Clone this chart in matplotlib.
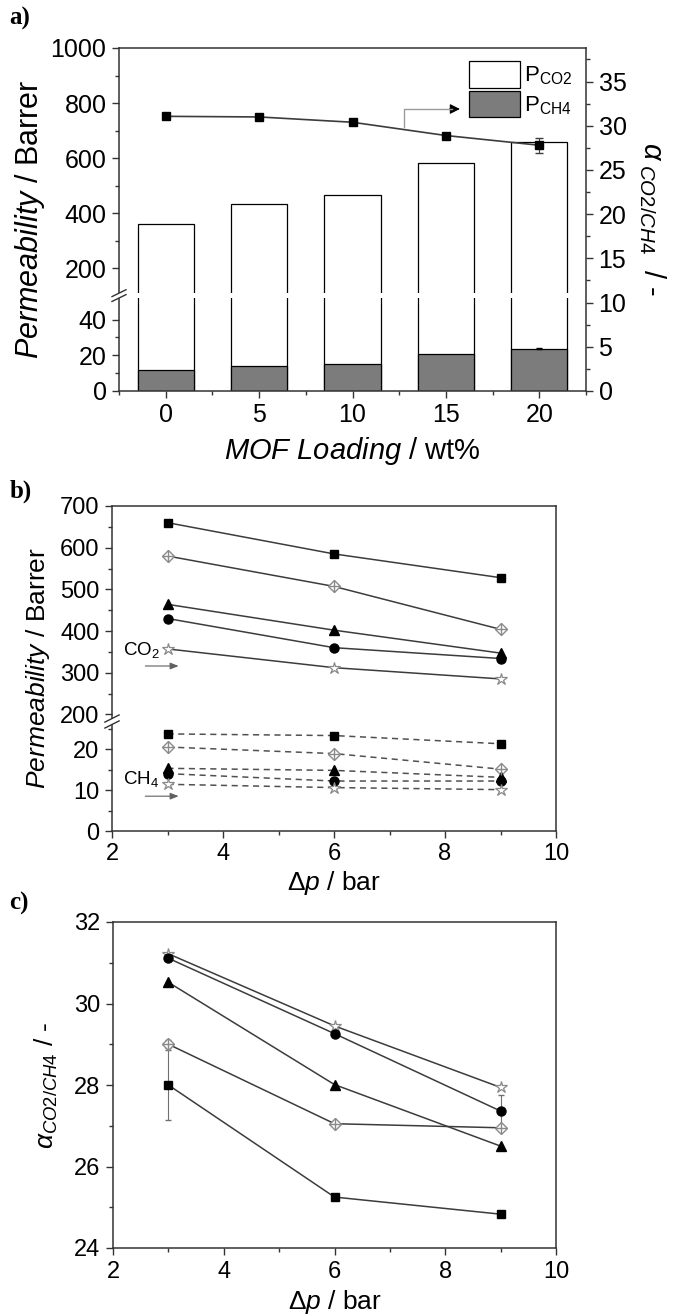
import numpy as np
import matplotlib
matplotlib.use("Agg")
import matplotlib.pyplot as plt
from matplotlib.ticker import FixedLocator, MultipleLocator, FixedFormatter
from matplotlib.patches import Rectangle

plt.rcParams['font.family'] = ['Liberation Sans', 'DejaVu Sans']
plt.rcParams['mathtext.fontset'] = 'custom'
plt.rcParams['mathtext.rm'] = 'Liberation Sans'
plt.rcParams['mathtext.it'] = 'Liberation Sans:italic'
plt.rcParams['mathtext.bf'] = 'Liberation Sans:bold'

# ---------------- data ----------------
# panel a
loading = [0, 5, 10, 15, 20]
p_co2 = [361, 434, 465, 584, 660]
p_ch4 = [11.6, 14.0, 15.3, 20.5, 23.7]
p_ch4_err = [0.0, 0.0, 0.0, 0.0, 0.4]
alpha_a = [31.07, 31.0, 30.4, 28.9, 27.8]
alpha_a_err = [0.0, 0.0, 0.0, 0.0, 0.85]

# panel b / c  (series: 20, 15, 10, 5, 0 wt%)
pressure = [3, 6, 9]
co2_sq = [660, 585, 528]
co2_dia = [580, 507, 404]
co2_tri = [464, 402, 347]
co2_cir = [430, 360, 334]
co2_star = [357, 312, 285]
ch4_sq = [23.7, 23.3, 21.3]
ch4_dia = [20.5, 18.9, 15.1]
ch4_tri = [15.3, 14.8, 13.1]
ch4_cir = [14.0, 12.2, 12.2]
ch4_star = [11.4, 10.6, 10.1]

sel_star = [31.22, 29.45, 27.94]
sel_cir = [31.11, 29.26, 27.36]
sel_tri = [30.52, 28.01, 26.50]
sel_dia = [29.00, 27.05, 26.95]
sel_sq = [28.00, 25.25, 24.83]
sel_sq_err = [0.87, 0.0, 0.0]
sel_cir_err = [0.0, 0.0, 0.40]
sel_dia_err = [0.10, 0.0, 0.0]

# tick labels
a_xticks = [0, 5, 10, 15, 20]
a_yticks = [0, 20, 40, 200, 400, 600, 800, 1000]
a_yminor = [10, 30, 300, 500, 700, 900]
a_rticks = [0, 5, 10, 15, 20, 25, 30, 35]
b_yticks = [0, 10, 20, 200, 300, 400, 500, 600, 700]
b_yminor = [5, 15, 25, 250, 350, 450, 550, 650]
bc_xticks = [2, 4, 6, 8, 10]
c_yticks = [24, 26, 28, 30, 32]

SPINE = '#333333'
LINE = '#3c3c3c'
GRAY = '#8a8a8a'
BARGRAY = '#7c7c7c'


def broken_scale(vs, ps):
    vs = np.asarray(vs, float)
    ps = np.asarray(ps, float)
    s0 = (ps[1] - ps[0]) / (vs[1] - vs[0])
    s1 = (ps[-1] - ps[-2]) / (vs[-1] - vs[-2])

    def mk(a, b, sa, sb):
        def f(v):
            v = np.asarray(v, float)
            out = np.interp(v, a, b)
            out = np.where(v < a[0], b[0] + (v - a[0]) * sa, out)
            out = np.where(v > a[-1], b[-1] + (v - a[-1]) * sb, out)
            return out
        return f
    return mk(vs, ps, s0, s1), mk(ps, vs, 1 / s0, 1 / s1)


def style_axes(ax):
    for s in ax.spines.values():
        s.set_color(SPINE)
        s.set_linewidth(1.1)
    ax.tick_params(which='both', direction='out', color=SPINE, width=1.0)
    ax.tick_params(which='major', length=5)
    ax.tick_params(which='minor', length=3)


def spine_break(ax, frac0, frac1, x0, x1, dx=0.015, dy=0.01):
    ax.add_patch(Rectangle((x0, frac0), x1 - x0, frac1 - frac0, transform=ax.transAxes,
                           facecolor='white', edgecolor='none', zorder=3, clip_on=False))
    for f in (frac0, frac1):
        ax.plot([-dx, dx], [f - dy, f + dy], transform=ax.transAxes, color=SPINE,
                lw=1.0, clip_on=False, zorder=4)


fig = plt.figure(figsize=(6.77, 13.16), dpi=100)

# ---------------- panel a ----------------
axa = fig.add_axes([119 / 677, 1 - 391 / 1316, 467 / 677, 343 / 1316])
fa, ia = broken_scale([0, 52, 110, 1000], [0, 92.8, 97.8, 342.6])
axa.set_yscale('function', functions=(fa, ia))
axa.bar(loading, p_co2, width=3, color='white', edgecolor='black', linewidth=0.9,
        zorder=1, label=r'P$_{\mathregular{CO2}}$')
axa.bar(loading, p_ch4, width=3, color=BARGRAY, edgecolor='black', linewidth=0.9,
        zorder=1.5, label=r'P$_{\mathregular{CH4}}$')
axa.errorbar([loading[-1]], [p_ch4[-1]], yerr=[p_ch4_err[-1]], fmt='none', ecolor='black',
             elinewidth=0.8, capsize=2, zorder=2)
axa.set_ylim(0, 1000)
axa.set_xlim(-2.5, 22.5)
axa.yaxis.set_major_locator(FixedLocator(a_yticks))
axa.yaxis.set_minor_locator(FixedLocator(a_yminor))
axa.yaxis.set_major_formatter(FixedFormatter([str(t) for t in a_yticks]))
axa.xaxis.set_major_locator(FixedLocator(a_xticks))
axa.xaxis.set_minor_locator(MultipleLocator(2.5))
style_axes(axa)
axa.tick_params(which='both', top=False, right=False, labelsize=18, pad=4)
axa.spines['right'].set_visible(False)
g0 = fa(52.5) / fa(1000)
g1 = fa(109) / fa(1000)
spine_break(axa, float(g0), float(g1), -0.012, 0.997)
leg = axa.legend(loc='upper right', bbox_to_anchor=(1.0, 1.0), frameon=False, fontsize=16,
                 handlelength=2.3, handleheight=1.45, handletextpad=0.2,
                 labelspacing=0.15, borderaxespad=0.2)

axr = axa.twinx()
axr.set_ylim(0, 38.8)
axr.errorbar(loading, alpha_a, yerr=alpha_a_err, color=LINE, lw=1.2, marker='s', ms=6,
             mfc='black', mec='black', ecolor=LINE, elinewidth=0.8, capsize=3, zorder=5)
axr.yaxis.set_major_locator(FixedLocator(a_rticks))
axr.yaxis.set_minor_locator(MultipleLocator(2.5))
style_axes(axr)
for s in ('left', 'top', 'bottom'):
    axr.spines[s].set_visible(False)
axr.tick_params(which='both', labelsize=18, pad=4)
# elbow arrow pointing to the right axis
elbow_x = [12.75, 12.75, 15.3]
elbow_y = [29.9, 31.9, 31.9]
axr.plot(elbow_x, elbow_y, color='#9a9a9a', lw=1.0, zorder=4)
axr.annotate('', xy=(15.75, 31.9), xytext=(15.2, 31.9),
             arrowprops=dict(arrowstyle='-|>,head_length=0.6,head_width=0.3',
                             color='black', lw=0.8, shrinkA=0, shrinkB=0))

axa.set_ylabel(r'$\mathit{Permeability}$ / Barrer', fontsize=22, ha='center', va='center')
axa.yaxis.set_label_coords((30 - 119) / 467, 0.5)
axa.set_xlabel(r'$\mathit{MOF\ Loading}$ / wt%', fontsize=21, ha='center', va='center')
axa.xaxis.set_label_coords(0.5, (391 - 451) / 343)
axr.set_ylabel(r'$\alpha_{\ \mathit{CO2/CH4}}$  / -', fontsize=21, rotation=270,
               ha='center', va='center')
axr.yaxis.set_label_coords((652 - 119) / 467, 0.5)

# ---------------- panel b ----------------
axb = fig.add_axes([112 / 677, 1 - 831 / 1316, 444 / 677, 325 / 1316])
fb, ib = broken_scale([0, 26, 190, 700], [0, 106.6, 112.6, 325.3])
axb.set_yscale('function', functions=(fb, ib))


def series(ax, y, kind, ls='-'):
    kw = dict(color=LINE, lw=1.1, ls=ls, zorder=2)
    if ls == '--':
        kw['dashes'] = (4, 3)
        kw['color'] = '#505050'
    if kind == 's':
        ax.plot(pressure, y, marker='s', ms=6, mfc='black', mec='black', **kw)
    elif kind == '^':
        ax.plot(pressure, y, marker='^', ms=7, mfc='black', mec='black', **kw)
    elif kind == 'o':
        ax.plot(pressure, y, marker='o', ms=6.5, mfc='black', mec='black', **kw)
    elif kind == 'D':
        ax.plot(pressure, y, marker='D', ms=6.5, mfc='white', mec=GRAY, mew=1.0, **kw)
        ax.plot(pressure, y, ls='none', marker='+', ms=8, mec=GRAY, mew=1.0, zorder=3)
    elif kind == '*':
        ax.plot(pressure, y, marker='*', ms=9, mfc='white', mec=GRAY, mew=0.9, **kw)


series(axb, co2_sq, 's')
series(axb, co2_dia, 'D')
series(axb, co2_tri, '^')
series(axb, co2_cir, 'o')
series(axb, co2_star, '*')
series(axb, ch4_sq, 's', '--')
series(axb, ch4_dia, 'D', '--')
series(axb, ch4_tri, '^', '--')
series(axb, ch4_cir, 'o', '--')
series(axb, ch4_star, '*', '--')
axb.set_ylim(0, 700)
axb.set_xlim(2, 10)
axb.yaxis.set_major_locator(FixedLocator(b_yticks))
axb.yaxis.set_minor_locator(FixedLocator(b_yminor))
axb.yaxis.set_major_formatter(FixedFormatter([str(t) for t in b_yticks]))
axb.xaxis.set_major_locator(FixedLocator(bc_xticks))
axb.xaxis.set_minor_locator(MultipleLocator(1))
style_axes(axb)
axb.tick_params(which='both', top=False, right=False, labelsize=17, pad=4)
h0 = fb(26.3) / fb(700)
h1 = fb(189) / fb(700)
spine_break(axb, float(h0), float(h1), -0.008, 0.008, dx=0.016, dy=0.011)

axb.text(2.2, 354, r'CO$_2$', fontsize=13.5, ha='left', va='center')
axb.annotate('', xy=(3.2, 316), xytext=(2.6, 316),
             arrowprops=dict(arrowstyle='-|>,head_length=0.5,head_width=0.2',
                             color='#606060', lw=0.8, shrinkA=0, shrinkB=0))
axb.text(2.2, 12.6, r'CH$_4$', fontsize=13.5, ha='left', va='center')
axb.annotate('', xy=(3.2, 8.5), xytext=(2.6, 8.5),
             arrowprops=dict(arrowstyle='-|>,head_length=0.5,head_width=0.2',
                             color='#606060', lw=0.8, shrinkA=0, shrinkB=0))
axb.set_ylabel(r'$\mathit{Permeability}$ / Barrer', fontsize=19, ha='center', va='center')
axb.yaxis.set_label_coords((38 - 112) / 444, 0.5)
axb.set_xlabel(r'$\mathit{\Delta p}$ / bar', fontsize=19, ha='center', va='center')
axb.xaxis.set_label_coords(0.5, (831 - 883) / 325)

# ---------------- panel c ----------------
axc = fig.add_axes([113 / 677, 1 - 1248 / 1316, 443 / 677, 326 / 1316])
series(axc, sel_star, '*')
axc.errorbar(pressure, sel_cir, yerr=sel_cir_err, fmt='none', ecolor='#707070',
             elinewidth=0.8, capsize=2.5, zorder=1)
series(axc, sel_cir, 'o')
series(axc, sel_tri, '^')
axc.errorbar(pressure, sel_dia, yerr=sel_dia_err, fmt='none', ecolor='#707070',
             elinewidth=0.8, capsize=2.5, zorder=1)
series(axc, sel_dia, 'D')
axc.errorbar(pressure, sel_sq, yerr=sel_sq_err, fmt='none', ecolor='#707070',
             elinewidth=0.8, capsize=2.5, zorder=1)
series(axc, sel_sq, 's')
axc.set_ylim(24, 32)
axc.set_xlim(2, 10)
axc.yaxis.set_major_locator(FixedLocator(c_yticks))
axc.yaxis.set_minor_locator(MultipleLocator(1))
axc.xaxis.set_major_locator(FixedLocator(bc_xticks))
axc.xaxis.set_minor_locator(MultipleLocator(1))
style_axes(axc)
axc.tick_params(which='both', top=False, right=False, labelsize=17, pad=4)
axc.set_ylabel(r'$\alpha_{\mathit{CO2/CH4}}$ / -', fontsize=19, ha='center', va='center')
axc.yaxis.set_label_coords((46 - 113) / 443, 0.5)
axc.set_xlabel(r'$\mathit{\Delta p}$ / bar', fontsize=19, ha='center', va='center')
axc.xaxis.set_label_coords(0.5, (1248 - 1302) / 326)

# panel letters
for lab, yy in (('a)', 18), ('b)', 491), ('c)', 903)):
    fig.text(0.014, 1 - yy / 1316, lab, fontsize=18, fontweight='bold',
             family=['Liberation Serif', 'DejaVu Serif'], ha='left', va='center')

fig.savefig('out.png', dpi=100)
